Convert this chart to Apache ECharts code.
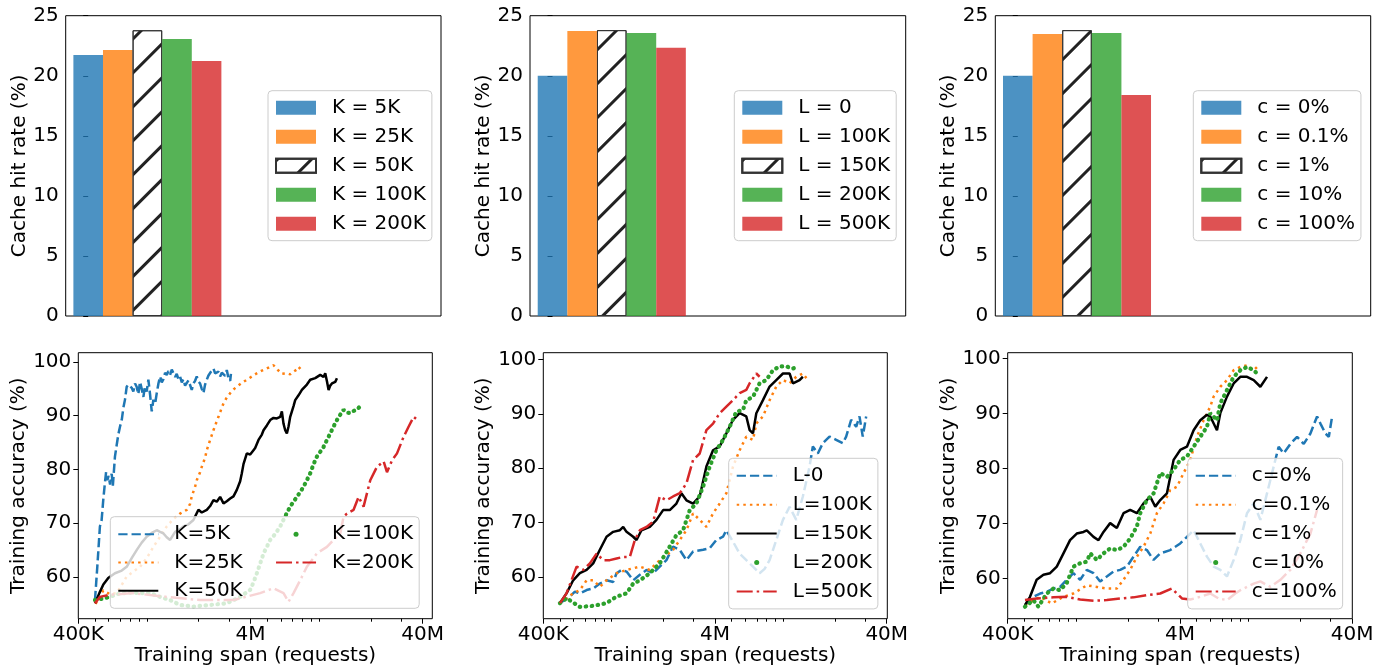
<!DOCTYPE html>
<html><head><meta charset="utf-8">
<script src="https://cdn.jsdelivr.net/npm/echarts@6/dist/echarts.min.js"></script>
<style>html,body{margin:0;padding:0;background:#fff}#c{width:1385px;height:670px}</style>
</head><body><div id="c"></div>
<script>
// ---------- data ----------
const barLabelsK = ['K = 5K','K = 25K','K = 50K','K = 100K','K = 200K'];
const barValuesK = [21.73, 22.15, 23.79, 23.06, 21.23];
const barLabelsL = ['L = 0','L = 100K','L = 150K','L = 200K','L = 500K'];
const barValuesL = [20.0, 23.73, 23.8, 23.56, 22.33];
const barLabelsC = ['c = 0%','c = 0.1%','c = 1%','c = 10%','c = 100%'];
const barValuesC = [20.0, 23.48, 23.8, 23.56, 18.4];

const xTickValues = [0.4, 4, 40];           // millions of requests
const xTickLabels = ['400K', '4M', '40M'];
const xMinorTicks = [0.5,0.6,0.7,0.8,0.9,1,2,3,5,6,7,8,9,10,20,30];
const yTicksAcc = [60, 70, 80, 90, 100];

const lineLabelsK = ['K=5K','K=25K','K=50K','K=100K','K=200K'];
const lineLabelsL = ['L-0','L=100K','L=150K','L=200K','L=500K'];
const lineLabelsC = ['c=0%','c=0.1%','c=1%','c=10%','c=100%'];

// training span (M requests), accuracy (%)
const accK5 = [[0.500,55.7],[0.516,62.0],[0.534,69.4],[0.546,70.5],[0.559,74.5],[0.571,77.5],[0.580,79.5],[0.590,78.0],[0.600,78.8],[0.612,77.2],[0.625,79.2],[0.635,77.0],[0.653,82.4],[0.668,84.5],[0.683,86.5],[0.699,88.0],[0.715,89.2],[0.731,91.5],[0.747,93.0],[0.764,95.4],[0.781,95.8],[0.799,96.0],[0.817,95.2],[0.835,94.5],[0.854,96.0],[0.873,95.4],[0.893,94.0],[0.913,96.3],[0.934,95.0],[0.955,93.5],[0.976,95.5],[0.998,94.5],[1.021,96.7],[1.044,94.0],[1.068,90.8],[1.092,93.0],[1.117,92.2],[1.142,94.2],[1.168,96.0],[1.194,97.3],[1.221,96.2],[1.249,96.8],[1.277,98.0],[1.305,97.6],[1.335,98.3],[1.365,97.6],[1.396,98.6],[1.427,98.5],[1.460,97.2],[1.492,97.8],[1.526,96.8],[1.560,97.3],[1.596,96.2],[1.631,96.8],[1.668,95.6],[1.706,95.4],[1.745,96.6],[1.784,96.8],[1.824,94.8],[1.865,96.0],[1.907,96.5],[1.950,97.3],[1.994,96.4],[2.039,96.0],[2.085,95.0],[2.132,94.2],[2.180,95.8],[2.230,96.7],[2.280,97.5],[2.332,97.8],[2.384,98.4],[2.438,98.8],[2.493,97.9],[2.549,97.6],[2.607,98.2],[2.666,97.3],[2.726,98.0],[2.788,98.2],[2.851,97.4],[2.914,98.5],[2.980,97.0],[3.048,96.5],[3.080,97.8]];
const accK25 = [[0.504,55.0],[0.530,56.2],[0.559,57.5],[0.611,56.8],[0.668,57.0],[0.715,58.5],[0.764,60.1],[0.835,61.0],[0.913,61.9],[0.998,63.5],[1.092,65.6],[1.194,67.5],[1.305,69.4],[1.427,70.8],[1.560,71.8],[1.706,72.5],[1.784,73.6],[1.824,75.0],[1.907,76.8],[1.950,78.0],[2.039,79.5],[2.085,80.5],[2.180,82.2],[2.230,83.6],[2.332,85.5],[2.438,87.3],[2.549,89.0],[2.607,89.8],[2.726,91.5],[2.788,92.3],[2.914,93.4],[3.048,94.2],[3.186,94.9],[3.332,95.4],[3.563,96.1],[3.809,96.7],[4.073,97.3],[4.355,97.9],[4.657,98.4],[4.979,98.8],[5.206,99.1],[5.443,99.4],[5.692,98.7],[5.820,98.5],[6.086,97.8],[6.507,97.9],[6.804,97.7],[7.113,98.2],[7.438,98.6],[7.606,99.1],[7.954,98.4],[8.133,98.5]];
const accK50 = [[0.500,55.1],[0.530,57.0],[0.559,58.6],[0.597,59.8],[0.653,60.7],[0.715,61.2],[0.764,61.9],[0.817,63.5],[0.873,65.0],[0.934,66.4],[0.998,67.5],[1.068,68.2],[1.142,68.7],[1.194,68.4],[1.249,68.1],[1.305,67.4],[1.365,66.9],[1.460,68.4],[1.560,68.9],[1.631,69.4],[1.745,69.8],[1.865,70.6],[1.994,72.5],[2.085,72.0],[2.230,72.5],[2.332,73.2],[2.438,74.3],[2.549,74.0],[2.666,74.9],[2.788,73.7],[2.914,74.1],[3.048,74.6],[3.186,75.0],[3.332,76.2],[3.484,77.8],[3.563,79.3],[3.643,81.0],[3.809,83.0],[3.983,82.8],[4.165,83.6],[4.259,84.0],[4.453,85.5],[4.657,86.5],[4.762,87.3],[4.979,88.2],[5.206,89.2],[5.443,89.6],[5.692,89.5],[5.952,89.8],[6.086,90.8],[6.223,88.5],[6.364,87.3],[6.507,86.7],[6.654,88.0],[6.804,89.8],[7.113,91.8],[7.274,92.9],[7.606,93.8],[7.954,94.8],[8.504,95.8],[8.893,96.7],[9.509,97.0],[10.17,97.6],[10.63,97.2],[10.87,97.9],[11.12,96.4],[11.37,94.8],[11.62,95.6],[11.89,96.0],[12.43,96.3],[12.71,96.96]];
const accK100 = [[0.500,55.7],[0.559,56.0],[0.611,56.3],[0.668,56.8],[0.731,57.0],[0.835,57.1],[0.913,57.0],[1.044,57.0],[1.194,56.3],[1.365,55.7],[1.560,54.8],[1.865,54.5],[2.332,54.8],[2.914,55.1],[3.484,56.3],[3.983,57.6],[4.165,59.0],[4.355,60.7],[4.554,62.5],[4.762,64.4],[4.979,65.6],[5.206,66.9],[5.566,68.0],[5.952,69.4],[6.364,71.3],[6.804,73.1],[7.113,74.0],[7.438,74.9],[7.779,75.8],[8.133,76.8],[8.504,78.0],[8.893,79.3],[9.300,81.0],[9.724,82.4],[10.17,83.3],[10.63,84.2],[11.12,85.5],[11.62,86.7],[12.15,88.0],[12.71,89.2],[13.29,90.2],[13.89,91.1],[14.52,90.6],[15.19,90.5],[15.88,90.9],[16.60,91.1],[17.36,91.8],[17.75,92.3]];
const accK200 = [[0.500,55.1],[0.534,56.3],[0.611,56.7],[0.835,57.0],[1.305,56.3],[2.039,55.7],[3.186,55.7],[4.554,57.0],[5.443,57.9],[6.223,57.0],[6.654,55.4],[7.113,57.0],[7.779,59.4],[8.504,61.9],[9.724,64.4],[11.12,65.6],[12.15,66.9],[13.29,68.1],[13.89,71.2],[14.52,71.8],[15.88,72.5],[16.98,74.9],[18.15,73.1],[19.85,78.0],[21.71,80.5],[23.74,81.5],[24.82,79.5],[26.55,81.7],[28.38,83.0],[31.03,86.1],[33.18,88.0],[35.47,89.8],[37.40,89.2]];

const accL0 = [[0.500,55.2],[0.571,56.4],[0.611,57.3],[0.653,57.0],[0.715,57.6],[0.781,57.9],[0.854,58.8],[0.934,59.4],[1.021,59.1],[1.068,60.7],[1.142,61.3],[1.221,61.0],[1.335,59.4],[1.460,60.4],[1.596,61.3],[1.745,60.7],[1.907,61.9],[2.085,63.1],[2.280,65.6],[2.493,65.0],[2.726,63.1],[2.980,64.7],[3.407,65.0],[3.725,65.3],[4.073,66.8],[4.453,67.4],[4.657,68.6],[5.091,66.5],[5.566,64.3],[6.086,63.1],[6.654,61.9],[7.274,60.7],[7.779,61.5],[8.317,63.1],[9.094,66.8],[9.944,70.5],[10.87,72.9],[11.89,70.5],[12.99,74.8],[14.21,80.3],[14.85,84.0],[15.88,82.7],[16.98,84.6],[18.56,85.8],[20.30,85.2],[22.20,84.6],[23.21,85.8],[24.82,88.9],[26.55,87.6],[27.76,89.5],[29.00,85.8],[30.35,89.5]];
const accL100 = [[0.500,55.2],[0.597,57.0],[0.653,57.6],[0.715,59.4],[0.781,59.4],[0.854,58.2],[0.934,59.4],[1.068,60.7],[1.221,61.3],[1.460,61.9],[1.668,61.3],[1.907,63.1],[2.280,65.0],[2.493,66.8],[2.726,68.6],[2.980,71.7],[3.258,70.5],[3.563,69.2],[3.895,71.7],[4.259,73.5],[4.657,75.4],[5.091,80.3],[5.566,83.3],[6.086,85.8],[6.654,85.2],[6.958,88.2],[7.606,89.5],[8.317,92.5],[9.094,95.0],[9.944,96.2],[10.87,95.6],[11.89,96.8],[12.99,97.4],[13.89,96.2]];
const accL150 = [[0.500,55.2],[0.546,57.0],[0.597,59.4],[0.653,60.7],[0.715,61.3],[0.781,62.5],[0.854,65.0],[0.934,67.4],[1.021,68.3],[1.117,68.6],[1.168,69.2],[1.221,68.3],[1.335,67.4],[1.396,66.8],[1.492,68.6],[1.668,69.2],[1.824,70.5],[1.994,72.3],[2.180,72.3],[2.384,73.5],[2.549,75.4],[2.726,74.1],[2.980,73.5],[3.258,74.8],[3.563,80.3],[3.895,83.3],[4.259,84.0],[4.657,86.4],[5.091,88.9],[5.566,90.1],[6.086,89.5],[6.364,87.0],[6.654,86.4],[6.958,90.1],[7.606,92.5],[8.317,95.0],[9.094,96.2],[9.944,97.4],[10.87,97.4],[11.37,95.6],[12.43,96.2],[12.99,96.8]];
const accL200 = [[0.500,55.2],[0.546,56.1],[0.653,54.5],[0.781,54.7],[0.934,55.2],[1.068,56.4],[1.221,57.0],[1.335,58.8],[1.460,59.4],[1.668,60.7],[1.907,62.5],[2.180,65.6],[2.384,67.7],[2.607,68.6],[2.851,72.3],[3.116,73.5],[3.407,76.6],[3.725,80.3],[4.073,83.3],[4.453,85.2],[4.869,87.6],[5.324,90.4],[5.820,90.7],[6.086,92.5],[6.654,93.1],[7.274,95.6],[7.954,96.2],[8.697,98.0],[9.509,98.7],[10.40,98.7],[11.37,98.3],[12.15,98.7]];
const accL500 = [[0.500,55.2],[0.546,57.0],[0.625,61.9],[0.683,61.3],[0.747,62.5],[0.817,64.3],[0.893,63.1],[0.976,63.1],[1.068,63.4],[1.168,63.7],[1.277,63.7],[1.365,66.8],[1.460,68.6],[1.596,69.2],[1.745,70.2],[1.907,74.8],[2.085,74.1],[2.280,74.8],[2.493,75.4],[2.726,77.2],[2.980,81.5],[3.258,82.7],[3.563,87.0],[3.895,88.2],[4.259,90.1],[4.657,91.3],[5.091,92.5],[5.566,93.8],[6.086,94.4],[6.364,95.6],[6.958,97.4],[7.274,96.8]];

const accC0 = [[0.504,55.2],[0.564,56.7],[0.617,57.3],[0.674,57.6],[0.737,58.2],[0.806,58.5],[0.881,59.8],[0.963,61.0],[1.054,59.8],[1.152,61.6],[1.260,61.0],[1.377,59.5],[1.506,60.4],[1.646,61.3],[1.800,61.6],[1.968,62.2],[2.151,64.0],[2.353,65.8],[2.572,65.2],[2.813,63.4],[3.075,64.6],[3.515,65.2],[4.018,66.4],[4.394,67.6],[4.805,68.8],[5.253,66.4],[5.743,64.0],[6.279,62.2],[6.865,61.6],[7.505,60.4],[8.206,63.4],[8.973,67.0],[9.811,71.9],[10.73,73.7],[11.73,70.7],[12.82,75.5],[14.02,80.4],[14.98,84.0],[16.02,82.8],[17.52,84.5],[19.16,85.8],[20.95,84.5],[22.90,86.4],[25.04,89.5],[26.19,88.2],[28.00,86.4],[29.29,85.8],[30.62,89.5]];
const accC01 = [[0.504,55.2],[0.617,56.7],[0.721,55.5],[0.843,56.7],[0.963,57.3],[1.152,58.8],[1.317,58.5],[1.506,58.2],[1.721,58.2],[1.882,59.8],[2.057,61.6],[2.250,64.0],[2.460,65.8],[2.690,68.2],[2.940,71.9],[3.215,73.7],[3.515,76.1],[3.843,76.7],[4.202,79.2],[4.595,81.6],[5.024,85.8],[5.492,88.8],[6.005,91.3],[6.279,93.1],[6.865,94.9],[7.505,96.1],[8.206,97.9],[8.973,98.5],[9.811,98.8],[10.73,97.9],[11.22,98.5]];
const accC1 = [[0.504,55.2],[0.539,56.7],[0.589,59.8],[0.645,60.7],[0.705,61.0],[0.771,62.2],[0.843,64.6],[0.921,67.0],[1.007,68.2],[1.102,68.5],[1.152,68.8],[1.260,67.6],[1.347,67.0],[1.440,68.5],[1.574,70.1],[1.721,69.2],[1.882,71.9],[2.057,72.5],[2.250,71.9],[2.460,73.7],[2.690,74.9],[2.877,73.1],[3.075,74.3],[3.362,75.5],[3.676,81.6],[4.018,83.4],[4.394,84.0],[4.805,87.0],[5.253,88.8],[5.743,89.8],[6.005,89.5],[6.566,87.0],[6.865,90.1],[7.505,93.1],[8.206,95.5],[8.973,96.7],[9.811,96.7],[10.73,96.1],[11.73,94.9],[12.82,96.7]];
const accC10 = [[0.504,54.9],[0.564,56.1],[0.603,54.9],[0.674,57.3],[0.737,58.2],[0.806,57.9],[0.881,59.2],[0.963,62.2],[1.054,62.8],[1.152,63.1],[1.205,64.6],[1.317,63.4],[1.440,64.6],[1.574,65.5],[1.721,65.2],[1.882,65.8],[2.057,67.3],[2.250,69.5],[2.353,71.9],[2.572,74.3],[2.813,75.5],[3.075,79.2],[3.362,78.5],[3.676,79.8],[4.018,81.6],[4.394,82.2],[4.805,84.0],[5.253,85.8],[5.743,87.6],[6.005,90.1],[6.566,88.8],[6.865,91.9],[7.505,94.3],[8.206,96.7],[8.973,97.9],[9.811,98.5],[10.73,97.9],[11.22,97.3]];
const accC100 = [[0.504,56.1],[0.589,56.4],[0.737,56.6],[0.881,56.7],[1.054,56.2],[1.260,56.0],[1.506,56.1],[1.800,56.4],[2.151,56.6],[2.572,57.0],[3.075,57.3],[3.595,58.2],[3.843,57.3],[4.110,56.4],[4.595,56.2],[5.253,56.7],[6.005,57.3],[6.714,56.4],[7.505,56.1],[8.390,57.3],[8.973,57.9],[9.811,58.5],[10.73,59.1],[11.73,59.5],[13.41,58.5],[15.33,59.8],[17.52,61.6],[20.03,64.6],[22.90,68.2],[25.04,72.5]];

// ---------- styles ----------
const FONT = 'DejaVu Sans';
const barColors = ['rgba(31,119,180,0.8)','rgba(255,127,14,0.8)','#ffffff','rgba(44,160,44,0.8)','rgba(214,39,40,0.8)'];
const lineStyleList = [
  {color:'#1f77b4', type:[9.25,4], width:2.5, cap:'butt'},
  {color:'#ff7f0e', type:[2.5,4.1], width:2.5, cap:'butt'},
  {color:'#000000', type:'solid', width:2.5, cap:'butt'},
  {color:'#2ca02c', type:[0.5,5.5], width:4.2, cap:'round'},
  {color:'#d62728', type:[16,4,2.5,4], width:2.5, cap:'butt'}
];
const topGrids = [
  {left:65.7, top:15.7, width:375.3, height:300.3},
  {left:530, top:15.7, width:375.7, height:300.3},
  {left:995.3, top:15.7, width:375.4, height:300.3}
];
const botGrids = [
  {left:78.3, top:352.7, width:354, height:266},
  {left:543.3, top:352.7, width:344, height:266},
  {left:1007.7, top:352.7, width:344.6, height:266}
];
const botX = [[0.4, 45.5],[0.4, 40.3],[0.4, 40.1]];
const botY = [[52.24,101.73],[52.34,101.22],[52.72,101.09]];

const grids = [];
topGrids.concat(botGrids).forEach(g => grids.push(Object.assign({show:true, borderColor:'#000', borderWidth:1, backgroundColor:'transparent'}, g)));
botGrids.forEach(g => grids.push(Object.assign({show:false}, g)));

function fmtX(v){
  for (let i=0;i<xTickValues.length;i++) if (Math.abs(Math.log10(v)-Math.log10(xTickValues[i]))<0.01) return xTickLabels[i];
  return '';
}
const tickStyle = {lineStyle:{color:'#000', width:1}};
const labelStyle = {fontSize:20, color:'#000', fontFamily:FONT};

const xAxes = [], yAxes = [];
topGrids.forEach((g,i) => {
  xAxes.push({type:'value', gridIndex:i, min:-0.76, max:11.92, axisLine:{show:false}, axisTick:{show:false}, axisLabel:{show:false}, splitLine:{show:false}});
  yAxes.push({type:'value', gridIndex:i, min:0, max:25, interval:5, axisLine:{show:false}, splitLine:{show:false},
    axisTick:Object.assign({show:true, length:5}, tickStyle), axisLabel:Object.assign({margin:7}, labelStyle),
    name:'Cache hit rate (%)', nameLocation:'middle', nameGap:[36,35,36][i], nameTextStyle:labelStyle});
});
botGrids.forEach((g,i) => {
  xAxes.push({type:'log', logBase:10, gridIndex:3+i, min:botX[i][0], max:botX[i][1], axisLine:{show:false}, splitLine:{show:false}, minorTick:{show:false},
    axisTick:Object.assign({show:true, length:5, customValues:xTickValues}, tickStyle),
    axisLabel:Object.assign({customValues:xTickValues, formatter:fmtX, margin:6}, labelStyle),
    name:'Training span (requests)', nameLocation:'middle', nameGap:26, nameTextStyle:labelStyle});
  yAxes.push({type:'value', gridIndex:3+i, min:botY[i][0], max:botY[i][1], axisLine:{show:false}, splitLine:{show:false},
    axisTick:Object.assign({show:true, length:5, customValues:yTicksAcc}, tickStyle),
    axisLabel:Object.assign({customValues:yTicksAcc, margin:7}, labelStyle),
    name:'Training accuracy (%)', nameLocation:'middle', nameGap:48, nameTextStyle:labelStyle});
});
botGrids.forEach((g,i) => {
  xAxes.push({type:'log', logBase:10, gridIndex:6+i, min:botX[i][0], max:botX[i][1], axisLine:{show:false}, splitLine:{show:false},
    axisTick:Object.assign({show:true, length:3, customValues:xMinorTicks}, tickStyle), axisLabel:{show:false}});
  yAxes.push({type:'value', gridIndex:6+i, min:0, max:1, show:false});
});

const series = [];
function barPanel(gi, labels, values){
  labels.forEach((name,i) => {
    series.push({type:'bar', name, xAxisIndex:gi, yAxisIndex:gi, barWidth:29.6, barGap:'-100%',
      data:[[i, values[i]]],
      itemStyle: i===2 ? {color:'#ffffff', borderColor:'#333', borderWidth:1,
          decal:{symbol:'rect', symbolSize:1, color:'#222', dashArrayX:[1,0], dashArrayY:[2.4,20.2], rotation:-Math.PI/4}}
        : {color:barColors[i]}});
  });
}
function linePanel(gi, labels, curves){
  labels.forEach((name,i) => {
    const st = lineStyleList[i];
    series.push({type:'line', name, xAxisIndex:gi, yAxisIndex:gi, data:curves[i], symbol:'none', showSymbol:false,
      lineStyle:{color:st.color, width:st.width, type:st.type, cap:st.cap},
      itemStyle:{color:st.color, opacity: i===3 ? 1 : 0}});
  });
}
barPanel(0, barLabelsK, barValuesK);
barPanel(1, barLabelsL, barValuesL);
barPanel(2, barLabelsC, barValuesC);
linePanel(3, lineLabelsK, [accK5, accK25, accK50, accK100, accK200]);
linePanel(4, lineLabelsL, [accL0, accL100, accL150, accL200, accL500]);
linePanel(5, lineLabelsC, [accC0, accC01, accC1, accC10, accC100]);

const legendBase = {orient:'vertical', backgroundColor:'rgba(255,255,255,0.8)', borderColor:'#cccccc', borderWidth:1, borderRadius:4,
  selectedMode:false, textStyle:{fontSize:20, lineHeight:20, color:'#000', fontFamily:FONT, padding:[0,0,0,11]}};
function topLegend(left, labels){
  return Object.assign({}, legendBase, {left, top:90.7, itemWidth:40, itemHeight:14, itemGap:9, icon:'rect', padding:[7,6,7,7], data:labels});
}
function botLegend(left, top, labels, gap, cols2){
  const data = labels.map((n,i) => {
    const d = {name:n};
    if (i===3) d.icon = 'circle';
    if (cols2 && i<3) d.textStyle = {padding:[0,24,0,11]};
    return d;
  });
  const o = Object.assign({}, legendBase, {left, top, itemWidth:40, itemHeight:5, itemGap:gap, padding:[7.5,6,7.5,7], data});
  if (cols2) o.height = 95;
  return o;
}
const legends = [
  topLegend(268, barLabelsK), topLegend(734.3, barLabelsL), topLegend(1193.3, barLabelsC),
  botLegend(110.3, 516.7, lineLabelsK, 8.3, true),
  botLegend(728.7, 458.3, lineLabelsL, 8.9, false),
  botLegend(1187.7, 458.3, lineLabelsC, 8.9, false)
];

const chart = echarts.init(document.getElementById('c'), null, {renderer:'canvas'});
chart.setOption({
  animation:false, backgroundColor:'#fff',
  textStyle:{fontFamily:FONT},
  grid:grids, xAxis:xAxes, yAxis:yAxes, legend:legends, series
});
</script></body></html>
